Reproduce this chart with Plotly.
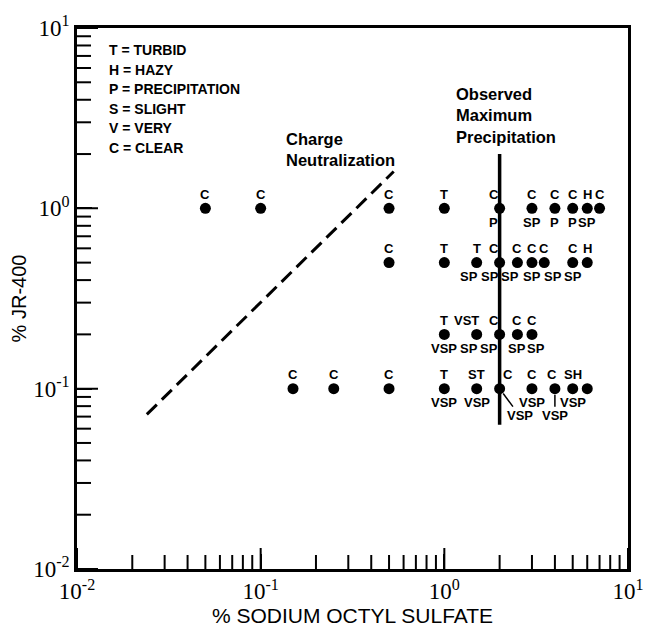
import math
import plotly.graph_objects as go

# ---------------- data ----------------
row1_x = [0.05, 0.1, 0.5, 1, 2, 3, 4, 5, 6, 7]
row1_y = [1.0] * 10
row1_top = ["C", "C", "C", "T", "C", "C", "C", "C", "H", "C"]
row1_bot = ["", "", "", "", "P", "SP", "P", "P", "SP", ""]

row05_x = [0.5, 1, 1.5, 2, 2.5, 3, 3.5, 5, 6]
row05_y = [0.5] * 9
row05_top = ["C", "T", "T", "C", "C", "C", "C", "C", "H"]
row05_bot = ["", "", "SP", "SP", "SP", "SP", "SP", "SP", ""]

row02_x = [1, 1.5, 2, 2.5, 3]
row02_y = [0.2] * 5
row02_top = ["T", "VST", "C", "C", "C"]
row02_bot = ["VSP", "SP", "SP", "SP", "SP"]

row01_x = [0.15, 0.25, 0.5, 1, 1.5, 2, 3, 4, 5, 6]
row01_y = [0.1] * 10
row01_top = ["C", "C", "C", "T", "ST", "C", "C", "C", "SH", ""]
row01_bot = ["", "", "", "VSP", "VSP", "VSP", "VSP", "VSP", "VSP", ""]

charge_x = [0.024, 0.53]
charge_y = [0.072, 1.6]

maxprecip_x = [2.0, 2.0]
maxprecip_y = [0.063, 2.0]

legend_lines = ["T = TURBID", "H = HAZY", "P = PRECIPITATION",
                "S = SLIGHT", "V = VERY", "C = CLEAR"]

x_range = [0.01, 10]
y_range = [0.01, 10]
x_tickvals = [0.01, 0.1, 1, 10]
x_ticktext = ["10<sup>-2</sup>", "10<sup>-1</sup>", "10<sup>0</sup>", "10<sup>1</sup>"]
y_tickvals = [0.01, 0.1, 1, 10]
y_ticktext = ["10<sup>-2</sup>", "10<sup>-1</sup>", "10<sup>0</sup>", "10<sup>1</sup>"]
minor_vals = [k * 10 ** e for e in (-2, -1, 0) for k in range(2, 10)]

# ---------------- layout helpers (style) ----------------
row1_top_dx = [0, 0, 0, 0, -6, 0, 0, 0, 0, 0]
row1_bot_dx = [0, 0, 0, 0, -6, 0, 0, 0, 0, 0]
row05_top_dx = [0, 0, 0, -6, 0, 0, 0, 0, 0]
row05_bot_dx = [0, 0, -8, -10, -7, 0, 9, 0, 0]
row02_top_dx = [0, -10, -6, 0, 0]
row02_bot_dx = [0, -8, -11, 0, 4]
row01_top_dx = [0, 0, 0, 0, 0, 8, 0, -3, 0, 0]
row01_bot_dx = [0, 0, 0, 0, 0, 20, 0, 0, 0, 0]
row01_leader = [False, False, False, False, False, True, False, True, False, False]

LABEL_FONT = dict(family="Liberation Sans", size=13, color="black")
PLOT_W, PLOT_H = 558, 556
MINOR_LEN_PX = 10
MAJOR_LEN_PX = 15

fig = go.Figure()

# tick marks: line-shaped markers centred on the axis edge; the outer half is
# clipped by the plot area, leaving an inside tick
for vals, n in ((minor_vals, MINOR_LEN_PX), (x_tickvals, MAJOR_LEN_PX)):
    fig.add_trace(go.Scatter(
        x=vals, y=[y_range[0]] * len(vals), mode="markers", cliponaxis=True,
        marker=dict(symbol="line-ns", size=2 * n, color="black",
                    line=dict(color="black", width=2)),
        showlegend=False, hoverinfo="skip"))
for vals, n in ((minor_vals, MINOR_LEN_PX), (y_tickvals, MAJOR_LEN_PX)):
    fig.add_trace(go.Scatter(
        x=[x_range[0]] * len(vals), y=vals, mode="markers", cliponaxis=True,
        marker=dict(symbol="line-ew", size=2 * n, color="black",
                    line=dict(color="black", width=2)),
        showlegend=False, hoverinfo="skip"))

all_x = row1_x + row05_x + row02_x + row01_x
all_y = row1_y + row05_y + row02_y + row01_y

fig.add_trace(go.Scatter(
    x=charge_x, y=charge_y, mode="lines",
    line=dict(color="black", width=3, dash="14px,7px"),
    showlegend=False, hoverinfo="skip"))

fig.add_trace(go.Scatter(
    x=maxprecip_x, y=maxprecip_y, mode="lines",
    line=dict(color="black", width=3.5),
    showlegend=False, hoverinfo="skip"))

fig.add_trace(go.Scatter(
    x=all_x, y=all_y, mode="markers",
    marker=dict(color="black", size=11),
    showlegend=False))

annotations = []


def add_labels(xs, ys, tops, bots, tdx, bdx, leader=None):
    for i, (x, y) in enumerate(zip(xs, ys)):
        if tops[i]:
            annotations.append(dict(
                x=math.log10(x), y=math.log10(y), xref="x", yref="y",
                text="<b>%s</b>" % tops[i], showarrow=False,
                xshift=tdx[i], yshift=14, font=LABEL_FONT))
        if bots[i]:
            if leader and leader[i]:
                annotations.append(dict(
                    x=math.log10(x), y=math.log10(y), xref="x", yref="y",
                    text="<b>%s</b>" % bots[i], showarrow=True,
                    ax=bdx[i], ay=27, arrowhead=0, arrowwidth=1.5,
                    arrowcolor="black", standoff=6, font=LABEL_FONT))
            else:
                annotations.append(dict(
                    x=math.log10(x), y=math.log10(y), xref="x", yref="y",
                    text="<b>%s</b>" % bots[i], showarrow=False,
                    xshift=bdx[i], yshift=-14, font=LABEL_FONT))


add_labels(row1_x, row1_y, row1_top, row1_bot, row1_top_dx, row1_bot_dx)
add_labels(row05_x, row05_y, row05_top, row05_bot, row05_top_dx, row05_bot_dx)
add_labels(row02_x, row02_y, row02_top, row02_bot, row02_top_dx, row02_bot_dx)
add_labels(row01_x, row01_y, row01_top, row01_bot, row01_top_dx, row01_bot_dx,
           row01_leader)

# legend block
for i, t in enumerate(legend_lines):
    annotations.append(dict(
        x=0.055, y=1 - (23 + 20 * i) / PLOT_H, xref="paper", yref="paper",
        xanchor="left", yanchor="middle", text="<b>%s</b>" % t, showarrow=False,
        font=dict(family="Liberation Sans", size=14, color="black")))

annotations.append(dict(
    x=(287 - 77) / PLOT_W, y=1 - (147 - 22) / PLOT_H, xref="paper", yref="paper",
    xanchor="left", yanchor="middle", align="left", showarrow=False,
    text="<b>Charge<br>Neutralization</b>",
    font=dict(family="Liberation Sans", size=16.5, color="black")))

annotations.append(dict(
    x=(459 - 77) / PLOT_W, y=1 - (112 - 22) / PLOT_H, xref="paper", yref="paper",
    xanchor="left", yanchor="middle", align="left", showarrow=False,
    text="<b>Observed<br>Maximum<br>Precipitation</b>",
    font=dict(family="Liberation Sans", size=16.5, color="black")))

axis_common = dict(
    type="log", showgrid=False, zeroline=False,
    showline=True, linecolor="black", linewidth=2.5, mirror=True,
    ticks="inside", ticklen=15, tickwidth=2, tickcolor="black",
    tickfont=dict(family="Liberation Serif", size=23, color="black"),
    tickmode="array",
)

fig.update_layout(
    width=656, height=635,
    margin=dict(l=77, r=21, t=22, b=57),
    paper_bgcolor="white", plot_bgcolor="white",
    showlegend=False,
    xaxis=dict(axis_common, range=[math.log10(x_range[0]), math.log10(x_range[1])],
               tickvals=x_tickvals, ticktext=x_ticktext,
               title=dict(text="% SODIUM OCTYL SULFATE", standoff=4,
                          font=dict(family="Liberation Sans", size=21, color="black"))),
    yaxis=dict(axis_common, range=[math.log10(y_range[0]), math.log10(y_range[1])],
               tickvals=y_tickvals, ticktext=y_ticktext,
               title=dict(text="% JR-400", standoff=2,
                          font=dict(family="Liberation Sans", size=20, color="black"))),
    annotations=annotations,
)

fig.write_html("out.html")
